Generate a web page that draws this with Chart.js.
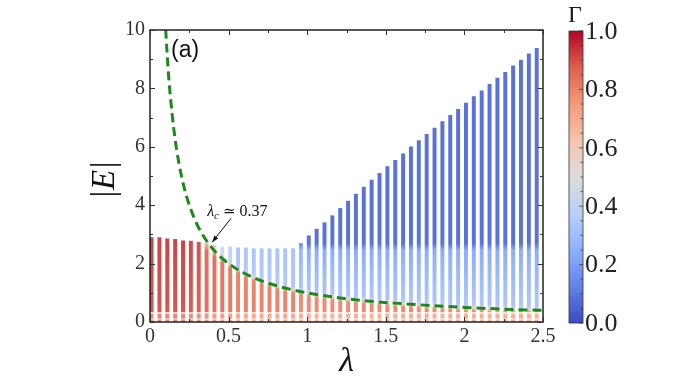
<!DOCTYPE html>
<html>
<head>
<meta charset="utf-8">
<script src="https://cdn.jsdelivr.net/npm/chart.js@4.4.1/dist/chart.umd.min.js"></script>
<style>
  html, body { margin: 0; padding: 0; background: #ffffff; }
  #wrap { width: 692px; height: 389px; }
</style>
</head>
<body>
<div id="wrap"><canvas id="c" width="692" height="389"></canvas></div>
<script>
// ---------- data ----------
const lambdas = [0.01,0.06,0.11,0.16,0.21,0.26,0.31,0.36,0.41,0.46,
                 0.51,0.56,0.61,0.66,0.71,0.76,0.81,0.86,0.91,0.96,
                 1.01,1.06,1.11,1.16,1.21,1.26,1.31,1.36,1.41,1.46,
                 1.51,1.56,1.61,1.66,1.71,1.76,1.81,1.86,1.91,1.96,
                 2.01,2.06,2.11,2.16,2.21,2.26,2.31,2.36,2.41,2.46];
// top |E| of each column
const eMax = [2.89,2.89,2.85,2.83,2.78,2.77,2.73,2.69,2.63,2.57,
              2.57,2.54,2.54,2.51,2.51,2.51,2.51,2.51,2.51,2.69,
              2.95,3.18,3.40,3.64,3.89,4.14,4.38,4.62,4.86,5.09,
              5.32,5.54,5.76,6.00,6.21,6.43,6.64,6.86,7.08,7.28,
              7.50,7.72,7.92,8.14,8.35,8.55,8.77,8.97,9.18,9.37];
// |E| where the colour switches from red (below) to blue (above)
const eSplit = [3.00,3.00,3.00,3.00,3.00,3.00,3.00,2.55,2.35,2.15,
                1.96,1.79,1.64,1.52,1.41,1.32,1.23,1.16,1.10,1.04,
                0.99,0.94,0.90,0.86,0.83,0.79,0.76,0.74,0.71,0.69,
                0.67,0.65,0.62,0.61,0.59,0.57,0.56,0.54,0.53,0.51,
                0.50,0.49,0.48,0.47,0.46,0.45,0.44,0.43,0.42,0.41];
// Gamma below the split
const gammaLow = [0.90,0.90,0.90,0.90,0.90,0.89,0.88,0.86,0.85,0.84,
                  0.83,0.81,0.81,0.81,0.81,0.81,0.81,0.81,0.81,0.79,
                  0.79,0.79,0.79,0.79,0.79,0.79,0.79,0.79,0.79,0.79,
                  0.79,0.79,0.79,0.79,0.79,0.79,0.79,0.79,0.79,0.79,
                  0.79,0.79,0.79,0.79,0.79,0.79,0.79,0.79,0.79,0.79];
// Gamma just above the split
const gammaMid = [0.90,0.90,0.90,0.90,0.90,0.89,0.88,0.70,0.58,0.47,
                  0.40,0.34,0.34,0.34,0.34,0.34,0.34,0.34,0.34,0.32,
                  0.33,0.33,0.33,0.33,0.33,0.33,0.33,0.33,0.33,0.33,
                  0.33,0.33,0.33,0.33,0.33,0.33,0.33,0.33,0.33,0.33,
                  0.33,0.33,0.33,0.33,0.33,0.33,0.33,0.33,0.33,0.33];
// Gamma at |E| ~ 2.5
const gammaUpper = [0.90,0.90,0.90,0.90,0.90,0.89,0.88,0.70,0.57,0.45,
                    0.38,0.32,0.32,0.32,0.32,0.32,0.32,0.32,0.32,0.27,
                    0.23,0.23,0.23,0.23,0.23,0.23,0.23,0.23,0.23,0.23,
                    0.23,0.23,0.23,0.23,0.23,0.23,0.23,0.23,0.23,0.23,
                    0.23,0.23,0.23,0.23,0.23,0.23,0.23,0.23,0.23,0.23];
// Gamma above |E| ~ 2.6
const gammaTop = [0.90,0.90,0.90,0.90,0.90,0.89,0.88,0.70,0.57,0.45,
                  0.38,0.32,0.32,0.32,0.32,0.32,0.32,0.32,0.32,0.14,
                  0.07,0.07,0.07,0.07,0.07,0.07,0.07,0.07,0.07,0.07,
                  0.07,0.07,0.07,0.07,0.07,0.07,0.07,0.07,0.07,0.07,
                  0.07,0.07,0.07,0.07,0.07,0.07,0.07,0.07,0.07,0.07];
// dashed critical curve
const curveLambda = [0.095,0.10,0.11,0.12,0.13,0.15,0.17,0.20,0.23,0.26,0.30,0.35,0.40,0.45,0.50,
                     0.60,0.70,0.80,0.90,1.00,1.20,1.40,1.60,1.80,2.00,2.25,2.50];
const curveE = [10.5,10.0,9.1,8.3,7.7,6.67,5.88,5.0,4.35,3.85,3.33,2.86,2.5,2.22,2.0,
                1.67,1.43,1.25,1.11,1.0,0.83,0.71,0.63,0.56,0.5,0.44,0.4];
const xTickStep = 0.5, yTickStep = 2;
const cbarTicks = ['0.0','0.2','0.4','0.6','0.8','1.0'];
const lambdaC = 0.37, lambdaCLabelE = 2.7;

// ---------- coolwarm ----------
const CW = [[59,76,192],[98,130,234],[141,176,254],[184,208,249],[221,221,221],
            [245,196,173],[244,154,123],[222,96,77],[180,4,38]];
function cwRGB(t){
  t = Math.max(0, Math.min(1, t));
  const p = t * (CW.length - 1), i = Math.min(CW.length - 2, Math.floor(p)), f = p - i;
  return CW[i].map((v, j) => Math.round(v + (CW[i+1][j] - v) * f));
}
function cw(t, a){ const c = cwRGB(t); return `rgba(${c[0]},${c[1]},${c[2]},${a === undefined ? 0.95 : a})`; }

function columnColor(context){
  const chart = context.chart;
  const area = chart.chartArea;
  if (!area) return cw(0.5);
  const i = context.dataIndex;
  const ys = chart.scales.y;
  const top = eMax[i];
  const y0 = ys.getPixelForValue(0), y1 = ys.getPixelForValue(top);
  const g = chart.ctx.createLinearGradient(0, y0, 0, y1);
  const lo = gammaLow[i], mid = gammaMid[i], up = gammaUpper[i], tp = gammaTop[i], sp = eSplit[i];
  const stops = [];
  const lowLight = cw(lo - 0.05, 0.8), low = cw(lo);
  stops.push([0, lowLight], [0.07, lowLight], [0.1, 'rgba(255,255,255,0.85)'], [0.13, lowLight],
             [0.27, lowLight], [0.31, 'rgba(255,255,255,0.6)'], [0.35, low]);
  if (sp >= top) {
    stops.push([top, cw(lo + 0.03)]);
  } else {
    stops.push([sp - 0.12, low], [sp, cw((lo + mid) / 2)], [sp + 0.12, cw(mid)]);
    if (top > 2.55) {
      stops.push([2.45, cw(up)], [2.7, cw(tp)], [top, cw(tp)]);
    } else {
      stops.push([top, cw(up)]);
    }
  }
  let prev = 0;
  for (const [e, c] of stops) {
    let p = Math.min(1, Math.max(prev, e / top));
    g.addColorStop(p, c);
    prev = p;
  }
  return g;
}

// ---------- decorations plugin ----------
const SERIF = "'Liberation Serif', 'DejaVu Serif', serif";
const deco = {
  id: 'deco',
  afterDraw(chart){
    const {ctx, chartArea: a, scales: {x, y}} = chart;
    ctx.save();
    // frame
    ctx.strokeStyle = '#222'; ctx.lineWidth = 1.5;
    ctx.strokeRect(a.left, a.top, a.right - a.left, a.bottom - a.top);
    // inward ticks
    ctx.lineWidth = 1; ctx.strokeStyle = '#333';
    for (let v = 0; v <= 2.5001; v += 0.25) {
      const px = Math.round(x.getPixelForValue(v)) + 0.5;
      const L = (Math.abs(v / 0.5 - Math.round(v / 0.5)) < 1e-6) ? 5 : 3;
      ctx.beginPath(); ctx.moveTo(px, a.bottom); ctx.lineTo(px, a.bottom - L);
      ctx.moveTo(px, a.top); ctx.lineTo(px, a.top + L); ctx.stroke();
    }
    for (let v = 0; v <= 10.001; v += 1) {
      const py = Math.round(y.getPixelForValue(v)) + 0.5;
      const L = (v % 2 === 0) ? 5 : 3;
      ctx.beginPath(); ctx.moveTo(a.left, py); ctx.lineTo(a.left + L, py);
      ctx.moveTo(a.right, py); ctx.lineTo(a.right - L, py); ctx.stroke();
    }
    // panel label
    ctx.fillStyle = '#111';
    ctx.font = "23px 'Liberation Sans', 'DejaVu Sans', sans-serif";
    ctx.textAlign = 'left'; ctx.textBaseline = 'middle';
    ctx.fillText('(a)', 171, 51);
    // axis titles
    ctx.fillStyle = '#111';
    ctx.font = `italic 34px ${SERIF}`;
    ctx.textAlign = 'center'; ctx.textBaseline = 'middle';
    ctx.fillText('λ', (a.left + a.right) / 2, 362);
    ctx.save();
    ctx.translate(105, (a.top + a.bottom) / 2 + 4);
    ctx.rotate(-Math.PI / 2);
    ctx.font = `italic 33px ${SERIF}`;
    ctx.fillText('|E|', 0, 0);
    ctx.restore();
    // annotation arrow
    const tx = x.getPixelForValue(lambdaC) + 4, ty = y.getPixelForValue(lambdaCLabelE) - 1;
    const sx = tx + 19, sy = ty - 24;
    ctx.strokeStyle = '#111'; ctx.lineWidth = 1;
    ctx.beginPath(); ctx.moveTo(sx, sy); ctx.lineTo(tx, ty); ctx.stroke();
    const ang = Math.atan2(ty - sy, tx - sx);
    ctx.beginPath();
    ctx.moveTo(tx, ty);
    ctx.lineTo(tx - 7 * Math.cos(ang - 0.35), ty - 7 * Math.sin(ang - 0.35));
    ctx.lineTo(tx - 7 * Math.cos(ang + 0.35), ty - 7 * Math.sin(ang + 0.35));
    ctx.closePath(); ctx.fillStyle = '#111'; ctx.fill();
    // annotation text
    ctx.textAlign = 'left'; ctx.textBaseline = 'alphabetic';
    let lx = x.getPixelForValue(lambdaC) - 1, ly = sy - 2;
    ctx.font = `italic 16px ${SERIF}`;
    ctx.fillText('λ', lx, ly); lx += ctx.measureText('λ').width;
    ctx.font = `italic 11px ${SERIF}`;
    ctx.fillText('c', lx, ly + 3); lx += ctx.measureText('c').width + 4;
    ctx.font = `15px 'DejaVu Serif', ${SERIF}`;
    ctx.fillText('≃', lx, ly); lx += ctx.measureText('≃').width + 4;
    ctx.font = `16px ${SERIF}`;
    ctx.fillText('0.37', lx, ly);
    // colorbar
    const cx0 = 569, cx1 = 583, cy0 = a.top + 1, cy1 = a.bottom + 1;
    const g = ctx.createLinearGradient(0, cy1, 0, cy0);
    for (let k = 0; k <= 40; k++) { g.addColorStop(k / 40, cw(k / 40, 1)); }
    ctx.fillStyle = g;
    ctx.fillRect(cx0, cy0, cx1 - cx0, cy1 - cy0);
    ctx.strokeStyle = '#333'; ctx.lineWidth = 0.8;
    ctx.strokeRect(cx0, cy0, cx1 - cx0, cy1 - cy0);
    for (let k = 0; k <= 20; k++) {
      const py = cy1 - (cy1 - cy0) * k / 20;
      const L = (k % 4 === 0) ? 4 : 2.5;
      ctx.beginPath(); ctx.moveTo(cx1, py); ctx.lineTo(cx1 - L, py); ctx.stroke();
    }
    ctx.fillStyle = '#222';
    ctx.font = `26px ${SERIF}`;
    ctx.textAlign = 'left'; ctx.textBaseline = 'middle';
    cbarTicks.forEach((t, k) => {
      const py = cy1 - (cy1 - cy0) * k / (cbarTicks.length - 1);
      ctx.fillText(t, 585, py + 1);
    });
    ctx.font = `24px ${SERIF}`;
    ctx.textAlign = 'center'; ctx.textBaseline = 'alphabetic';
    ctx.fillText('Γ', 575, 22);
    ctx.restore();
  }
};

new Chart(document.getElementById('c'), {
  type: 'bar',
  data: {
    datasets: [
      {
        type: 'line',
        data: curveLambda.map((v, i) => ({x: v, y: curveE[i]})),
        borderColor: '#1b8a1b',
        borderWidth: 3,
        borderDash: [9, 5],
        pointRadius: 0,
        cubicInterpolationMode: 'monotone',
        order: 0
      },
      {
        type: 'bar',
        data: lambdas.map((v, i) => ({x: v, y: [0, eMax[i]]})),
        backgroundColor: columnColor,
        borderWidth: 0,
        barThickness: 3.3,
        order: 1
      }
    ]
  },
  options: {
    responsive: false,
    animation: false,
    devicePixelRatio: 1,
    layout: { padding: { top: 30, right: 149, bottom: 0, left: 0 } },
    plugins: { legend: { display: false }, tooltip: { enabled: false } },
    scales: {
      x: {
        type: 'linear', min: 0, max: 2.5, offset: false,
        grid: { display: false, drawTicks: false },
        border: { display: false },
        ticks: { stepSize: xTickStep, padding: 3, color: '#333',
                 font: { family: SERIF, size: 20 }, maxRotation: 0,
                 callback: v => String(Math.round(v * 100) / 100) },
        afterFit(s){ s.height = 67; }
      },
      y: {
        type: 'linear', min: 0, max: 10,
        grid: { display: false, drawTicks: false },
        border: { display: false },
        ticks: { stepSize: yTickStep, padding: 5, color: '#333',
                 font: { family: SERIF, size: 20 },
                 callback: v => String(Math.round(v)) },
        afterFit(s){ s.width = 150; }
      }
    }
  },
  plugins: [deco]
});
</script>
</body>
</html>
